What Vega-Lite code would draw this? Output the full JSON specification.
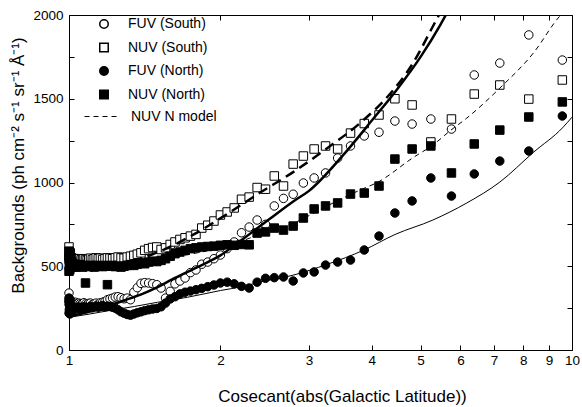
{
  "$schema": "https://vega.github.io/schema/vega-lite/v6.json",
  "width": 503,
  "height": 335,
  "autosize": {"type": "none"},
  "padding": {"left": 69, "top": 15, "right": 10, "bottom": 57},
  "config": {
    "font": "Liberation Sans",
    "view": {"stroke": null},
    "axis": {
      "grid": false,
      "domainColor": "black",
      "domainWidth": 1,
      "tickColor": "black",
      "tickWidth": 1,
      "tickSize": -5,
      "labelColor": "black",
      "labelFontSize": 13.5,
      "titleColor": "black",
      "titleFontSize": 17,
      "titleFontWeight": "normal"
    }
  },
  "datasets": {
    "points": [
      {"s": "FUV (South)", "x": 1, "y": 340},
      {"s": "FUV (South)", "x": 1.0002, "y": 290},
      {"s": "FUV (South)", "x": 1.0006, "y": 275},
      {"s": "FUV (South)", "x": 1.0014, "y": 300},
      {"s": "FUV (South)", "x": 1.0024, "y": 265},
      {"s": "FUV (South)", "x": 1.0038, "y": 280},
      {"s": "FUV (South)", "x": 1.0055, "y": 270},
      {"s": "FUV (South)", "x": 1.0075, "y": 285},
      {"s": "FUV (South)", "x": 1.0098, "y": 275},
      {"s": "FUV (South)", "x": 1.0125, "y": 290},
      {"s": "FUV (South)", "x": 1.0154, "y": 268},
      {"s": "FUV (South)", "x": 1.0187, "y": 275},
      {"s": "FUV (South)", "x": 1.0223, "y": 280},
      {"s": "FUV (South)", "x": 1.0263, "y": 270},
      {"s": "FUV (South)", "x": 1.0306, "y": 285},
      {"s": "FUV (South)", "x": 1.0353, "y": 275},
      {"s": "FUV (South)", "x": 1.0403, "y": 270},
      {"s": "FUV (South)", "x": 1.0457, "y": 280},
      {"s": "FUV (South)", "x": 1.0515, "y": 275},
      {"s": "FUV (South)", "x": 1.0576, "y": 270},
      {"s": "FUV (South)", "x": 1.0642, "y": 278},
      {"s": "FUV (South)", "x": 1.0711, "y": 282},
      {"s": "FUV (South)", "x": 1.0785, "y": 275},
      {"s": "FUV (South)", "x": 1.0864, "y": 270},
      {"s": "FUV (South)", "x": 1.0946, "y": 278},
      {"s": "FUV (South)", "x": 1.1034, "y": 280},
      {"s": "FUV (South)", "x": 1.1126, "y": 272},
      {"s": "FUV (South)", "x": 1.1223, "y": 276},
      {"s": "FUV (South)", "x": 1.1326, "y": 280},
      {"s": "FUV (South)", "x": 1.1434, "y": 274},
      {"s": "FUV (South)", "x": 1.1547, "y": 282},
      {"s": "FUV (South)", "x": 1.1666, "y": 285},
      {"s": "FUV (South)", "x": 1.1792, "y": 290},
      {"s": "FUV (South)", "x": 1.1924, "y": 300},
      {"s": "FUV (South)", "x": 1.2062, "y": 305},
      {"s": "FUV (South)", "x": 1.2208, "y": 310},
      {"s": "FUV (South)", "x": 1.2361, "y": 316},
      {"s": "FUV (South)", "x": 1.2521, "y": 318},
      {"s": "FUV (South)", "x": 1.269, "y": 312},
      {"s": "FUV (South)", "x": 1.2868, "y": 306},
      {"s": "FUV (South)", "x": 1.3054, "y": 310},
      {"s": "FUV (South)", "x": 1.325, "y": 300},
      {"s": "FUV (South)", "x": 1.3456, "y": 345},
      {"s": "FUV (South)", "x": 1.3673, "y": 372},
      {"s": "FUV (South)", "x": 1.3902, "y": 398},
      {"s": "FUV (South)", "x": 1.4142, "y": 402},
      {"s": "FUV (South)", "x": 1.4396, "y": 400},
      {"s": "FUV (South)", "x": 1.4663, "y": 396},
      {"s": "FUV (South)", "x": 1.4945, "y": 390},
      {"s": "FUV (South)", "x": 1.5243, "y": 370},
      {"s": "FUV (South)", "x": 1.5557, "y": 310},
      {"s": "FUV (South)", "x": 1.589, "y": 350},
      {"s": "FUV (South)", "x": 1.6243, "y": 395},
      {"s": "FUV (South)", "x": 1.6616, "y": 412},
      {"s": "FUV (South)", "x": 1.7013, "y": 430},
      {"s": "FUV (South)", "x": 1.7434, "y": 462},
      {"s": "FUV (South)", "x": 1.7883, "y": 478},
      {"s": "FUV (South)", "x": 1.8361, "y": 512},
      {"s": "FUV (South)", "x": 1.8871, "y": 525},
      {"s": "FUV (South)", "x": 1.9416, "y": 545},
      {"s": "FUV (South)", "x": 2, "y": 567},
      {"s": "FUV (South)", "x": 2.0627, "y": 605},
      {"s": "FUV (South)", "x": 2.1301, "y": 645},
      {"s": "FUV (South)", "x": 2.2027, "y": 700},
      {"s": "FUV (South)", "x": 2.2812, "y": 734},
      {"s": "FUV (South)", "x": 2.3662, "y": 776},
      {"s": "FUV (South)", "x": 2.4586, "y": 750},
      {"s": "FUV (South)", "x": 2.5593, "y": 860},
      {"s": "FUV (South)", "x": 2.6695, "y": 905},
      {"s": "FUV (South)", "x": 2.7904, "y": 930},
      {"s": "FUV (South)", "x": 2.9238, "y": 997},
      {"s": "FUV (South)", "x": 3.0716, "y": 1027},
      {"s": "FUV (South)", "x": 3.2361, "y": 1057},
      {"s": "FUV (South)", "x": 3.4203, "y": 1146},
      {"s": "FUV (South)", "x": 3.628, "y": 1218},
      {"s": "FUV (South)", "x": 3.8637, "y": 1278},
      {"s": "FUV (South)", "x": 4.1336, "y": 1300},
      {"s": "FUV (South)", "x": 4.4454, "y": 1367},
      {"s": "FUV (South)", "x": 4.8097, "y": 1349},
      {"s": "FUV (South)", "x": 5.2408, "y": 1379},
      {"s": "FUV (South)", "x": 5.7588, "y": 1319},
      {"s": "FUV (South)", "x": 6.3925, "y": 1642},
      {"s": "FUV (South)", "x": 7.1853, "y": 1713},
      {"s": "FUV (South)", "x": 8.2055, "y": 1881},
      {"s": "FUV (South)", "x": 9.5668, "y": 1731},
      {"s": "NUV (South)", "x": 1, "y": 615},
      {"s": "NUV (South)", "x": 1.0002, "y": 560},
      {"s": "NUV (South)", "x": 1.0006, "y": 545},
      {"s": "NUV (South)", "x": 1.0014, "y": 555},
      {"s": "NUV (South)", "x": 1.0024, "y": 540},
      {"s": "NUV (South)", "x": 1.0038, "y": 548},
      {"s": "NUV (South)", "x": 1.0055, "y": 535},
      {"s": "NUV (South)", "x": 1.0075, "y": 545},
      {"s": "NUV (South)", "x": 1.0098, "y": 538},
      {"s": "NUV (South)", "x": 1.0125, "y": 550},
      {"s": "NUV (South)", "x": 1.0154, "y": 540},
      {"s": "NUV (South)", "x": 1.0187, "y": 535},
      {"s": "NUV (South)", "x": 1.0223, "y": 545},
      {"s": "NUV (South)", "x": 1.0263, "y": 540},
      {"s": "NUV (South)", "x": 1.0306, "y": 538},
      {"s": "NUV (South)", "x": 1.0353, "y": 545},
      {"s": "NUV (South)", "x": 1.0403, "y": 535},
      {"s": "NUV (South)", "x": 1.0457, "y": 540},
      {"s": "NUV (South)", "x": 1.0515, "y": 545},
      {"s": "NUV (South)", "x": 1.0576, "y": 538},
      {"s": "NUV (South)", "x": 1.0642, "y": 542},
      {"s": "NUV (South)", "x": 1.0711, "y": 545},
      {"s": "NUV (South)", "x": 1.0785, "y": 540},
      {"s": "NUV (South)", "x": 1.0864, "y": 535},
      {"s": "NUV (South)", "x": 1.0946, "y": 542},
      {"s": "NUV (South)", "x": 1.1034, "y": 548},
      {"s": "NUV (South)", "x": 1.1126, "y": 540},
      {"s": "NUV (South)", "x": 1.1223, "y": 545},
      {"s": "NUV (South)", "x": 1.1326, "y": 550},
      {"s": "NUV (South)", "x": 1.1434, "y": 545},
      {"s": "NUV (South)", "x": 1.1547, "y": 548},
      {"s": "NUV (South)", "x": 1.1666, "y": 540},
      {"s": "NUV (South)", "x": 1.1792, "y": 545},
      {"s": "NUV (South)", "x": 1.1924, "y": 550},
      {"s": "NUV (South)", "x": 1.2062, "y": 548},
      {"s": "NUV (South)", "x": 1.2208, "y": 545},
      {"s": "NUV (South)", "x": 1.2361, "y": 550},
      {"s": "NUV (South)", "x": 1.2521, "y": 555},
      {"s": "NUV (South)", "x": 1.269, "y": 550},
      {"s": "NUV (South)", "x": 1.2868, "y": 548},
      {"s": "NUV (South)", "x": 1.3054, "y": 555},
      {"s": "NUV (South)", "x": 1.325, "y": 560},
      {"s": "NUV (South)", "x": 1.3456, "y": 565},
      {"s": "NUV (South)", "x": 1.3673, "y": 572},
      {"s": "NUV (South)", "x": 1.3902, "y": 580},
      {"s": "NUV (South)", "x": 1.4142, "y": 595},
      {"s": "NUV (South)", "x": 1.4396, "y": 605},
      {"s": "NUV (South)", "x": 1.4663, "y": 612},
      {"s": "NUV (South)", "x": 1.4945, "y": 615},
      {"s": "NUV (South)", "x": 1.5243, "y": 600},
      {"s": "NUV (South)", "x": 1.5557, "y": 610},
      {"s": "NUV (South)", "x": 1.589, "y": 630},
      {"s": "NUV (South)", "x": 1.6243, "y": 645},
      {"s": "NUV (South)", "x": 1.6616, "y": 660},
      {"s": "NUV (South)", "x": 1.7013, "y": 670},
      {"s": "NUV (South)", "x": 1.7434, "y": 680},
      {"s": "NUV (South)", "x": 1.7883, "y": 690},
      {"s": "NUV (South)", "x": 1.8361, "y": 728},
      {"s": "NUV (South)", "x": 1.8871, "y": 745},
      {"s": "NUV (South)", "x": 1.9416, "y": 770},
      {"s": "NUV (South)", "x": 2, "y": 806},
      {"s": "NUV (South)", "x": 2.0627, "y": 824},
      {"s": "NUV (South)", "x": 2.1301, "y": 848},
      {"s": "NUV (South)", "x": 2.2027, "y": 900},
      {"s": "NUV (South)", "x": 2.2812, "y": 913},
      {"s": "NUV (South)", "x": 2.3662, "y": 970},
      {"s": "NUV (South)", "x": 2.4586, "y": 960},
      {"s": "NUV (South)", "x": 2.5593, "y": 1039},
      {"s": "NUV (South)", "x": 2.6695, "y": 979},
      {"s": "NUV (South)", "x": 2.7904, "y": 1110},
      {"s": "NUV (South)", "x": 2.9238, "y": 1158},
      {"s": "NUV (South)", "x": 3.0716, "y": 1200},
      {"s": "NUV (South)", "x": 3.2361, "y": 1218},
      {"s": "NUV (South)", "x": 3.4203, "y": 1200},
      {"s": "NUV (South)", "x": 3.628, "y": 1295},
      {"s": "NUV (South)", "x": 3.8637, "y": 1352},
      {"s": "NUV (South)", "x": 4.1336, "y": 1403},
      {"s": "NUV (South)", "x": 4.4454, "y": 1500},
      {"s": "NUV (South)", "x": 4.8097, "y": 1463},
      {"s": "NUV (South)", "x": 5.2408, "y": 1242},
      {"s": "NUV (South)", "x": 5.7588, "y": 1379},
      {"s": "NUV (South)", "x": 6.3925, "y": 1528},
      {"s": "NUV (South)", "x": 7.1853, "y": 1582},
      {"s": "NUV (South)", "x": 8.2055, "y": 1498},
      {"s": "NUV (South)", "x": 9.5668, "y": 1612},
      {"s": "FUV (North)", "x": 1, "y": 310},
      {"s": "FUV (North)", "x": 1.0002, "y": 220},
      {"s": "FUV (North)", "x": 1.0006, "y": 290},
      {"s": "FUV (North)", "x": 1.0014, "y": 240},
      {"s": "FUV (North)", "x": 1.0024, "y": 270},
      {"s": "FUV (North)", "x": 1.0038, "y": 215},
      {"s": "FUV (North)", "x": 1.0055, "y": 300},
      {"s": "FUV (North)", "x": 1.0075, "y": 250},
      {"s": "FUV (North)", "x": 1.0098, "y": 230},
      {"s": "FUV (North)", "x": 1.0125, "y": 260},
      {"s": "FUV (North)", "x": 1.0154, "y": 245},
      {"s": "FUV (North)", "x": 1.0187, "y": 255},
      {"s": "FUV (North)", "x": 1.0223, "y": 240},
      {"s": "FUV (North)", "x": 1.0263, "y": 250},
      {"s": "FUV (North)", "x": 1.0306, "y": 245},
      {"s": "FUV (North)", "x": 1.0353, "y": 255},
      {"s": "FUV (North)", "x": 1.0403, "y": 248},
      {"s": "FUV (North)", "x": 1.0457, "y": 252},
      {"s": "FUV (North)", "x": 1.0515, "y": 245},
      {"s": "FUV (North)", "x": 1.0576, "y": 255},
      {"s": "FUV (North)", "x": 1.0642, "y": 250},
      {"s": "FUV (North)", "x": 1.0711, "y": 258},
      {"s": "FUV (North)", "x": 1.0785, "y": 252},
      {"s": "FUV (North)", "x": 1.0864, "y": 248},
      {"s": "FUV (North)", "x": 1.0946, "y": 255},
      {"s": "FUV (North)", "x": 1.1034, "y": 260},
      {"s": "FUV (North)", "x": 1.1126, "y": 252},
      {"s": "FUV (North)", "x": 1.1223, "y": 256},
      {"s": "FUV (North)", "x": 1.1326, "y": 262},
      {"s": "FUV (North)", "x": 1.1434, "y": 255},
      {"s": "FUV (North)", "x": 1.1547, "y": 260},
      {"s": "FUV (North)", "x": 1.1666, "y": 265},
      {"s": "FUV (North)", "x": 1.1792, "y": 258},
      {"s": "FUV (North)", "x": 1.1924, "y": 262},
      {"s": "FUV (North)", "x": 1.2062, "y": 260},
      {"s": "FUV (North)", "x": 1.2208, "y": 255},
      {"s": "FUV (North)", "x": 1.2361, "y": 250},
      {"s": "FUV (North)", "x": 1.2521, "y": 240},
      {"s": "FUV (North)", "x": 1.269, "y": 228},
      {"s": "FUV (North)", "x": 1.2868, "y": 220},
      {"s": "FUV (North)", "x": 1.3054, "y": 212},
      {"s": "FUV (North)", "x": 1.325, "y": 208},
      {"s": "FUV (North)", "x": 1.3456, "y": 215},
      {"s": "FUV (North)", "x": 1.3673, "y": 222},
      {"s": "FUV (North)", "x": 1.3902, "y": 228},
      {"s": "FUV (North)", "x": 1.4142, "y": 235},
      {"s": "FUV (North)", "x": 1.4396, "y": 240},
      {"s": "FUV (North)", "x": 1.4663, "y": 245},
      {"s": "FUV (North)", "x": 1.4945, "y": 248},
      {"s": "FUV (North)", "x": 1.5243, "y": 258},
      {"s": "FUV (North)", "x": 1.5557, "y": 280},
      {"s": "FUV (North)", "x": 1.589, "y": 305},
      {"s": "FUV (North)", "x": 1.6243, "y": 318},
      {"s": "FUV (North)", "x": 1.6616, "y": 335},
      {"s": "FUV (North)", "x": 1.7013, "y": 345},
      {"s": "FUV (North)", "x": 1.7434, "y": 352},
      {"s": "FUV (North)", "x": 1.7883, "y": 360},
      {"s": "FUV (North)", "x": 1.8361, "y": 368},
      {"s": "FUV (North)", "x": 1.8871, "y": 378},
      {"s": "FUV (North)", "x": 1.9416, "y": 388},
      {"s": "FUV (North)", "x": 2, "y": 400},
      {"s": "FUV (North)", "x": 2.0627, "y": 405},
      {"s": "FUV (North)", "x": 2.1301, "y": 395},
      {"s": "FUV (North)", "x": 2.2027, "y": 380},
      {"s": "FUV (North)", "x": 2.2812, "y": 370},
      {"s": "FUV (North)", "x": 2.3662, "y": 405},
      {"s": "FUV (North)", "x": 2.4586, "y": 428},
      {"s": "FUV (North)", "x": 2.5593, "y": 432},
      {"s": "FUV (North)", "x": 2.6695, "y": 436},
      {"s": "FUV (North)", "x": 2.7904, "y": 412},
      {"s": "FUV (North)", "x": 2.9238, "y": 460},
      {"s": "FUV (North)", "x": 3.0716, "y": 466},
      {"s": "FUV (North)", "x": 3.2361, "y": 507},
      {"s": "FUV (North)", "x": 3.4203, "y": 525},
      {"s": "FUV (North)", "x": 3.628, "y": 537},
      {"s": "FUV (North)", "x": 3.8637, "y": 597},
      {"s": "FUV (North)", "x": 4.1336, "y": 680},
      {"s": "FUV (North)", "x": 4.4454, "y": 818},
      {"s": "FUV (North)", "x": 4.8097, "y": 890},
      {"s": "FUV (North)", "x": 5.2408, "y": 1027},
      {"s": "FUV (North)", "x": 5.7588, "y": 919},
      {"s": "FUV (North)", "x": 6.3925, "y": 1051},
      {"s": "FUV (North)", "x": 7.1853, "y": 1128},
      {"s": "FUV (North)", "x": 8.2055, "y": 1188},
      {"s": "FUV (North)", "x": 9.5668, "y": 1397},
      {"s": "NUV (North)", "x": 1, "y": 590},
      {"s": "NUV (North)", "x": 1.0002, "y": 470},
      {"s": "NUV (North)", "x": 1.0006, "y": 560},
      {"s": "NUV (North)", "x": 1.0014, "y": 500},
      {"s": "NUV (North)", "x": 1.0024, "y": 540},
      {"s": "NUV (North)", "x": 1.0038, "y": 480},
      {"s": "NUV (North)", "x": 1.0055, "y": 580},
      {"s": "NUV (North)", "x": 1.0075, "y": 510},
      {"s": "NUV (North)", "x": 1.0098, "y": 495},
      {"s": "NUV (North)", "x": 1.0125, "y": 530},
      {"s": "NUV (North)", "x": 1.0154, "y": 500},
      {"s": "NUV (North)", "x": 1.0187, "y": 515},
      {"s": "NUV (North)", "x": 1.0223, "y": 505},
      {"s": "NUV (North)", "x": 1.0263, "y": 495},
      {"s": "NUV (North)", "x": 1.0306, "y": 510},
      {"s": "NUV (North)", "x": 1.0353, "y": 500},
      {"s": "NUV (North)", "x": 1.0403, "y": 505},
      {"s": "NUV (North)", "x": 1.0457, "y": 498},
      {"s": "NUV (North)", "x": 1.0515, "y": 510},
      {"s": "NUV (North)", "x": 1.0576, "y": 502},
      {"s": "NUV (North)", "x": 1.0642, "y": 495},
      {"s": "NUV (North)", "x": 1.0711, "y": 505},
      {"s": "NUV (North)", "x": 1.0785, "y": 400},
      {"s": "NUV (North)", "x": 1.0864, "y": 500},
      {"s": "NUV (North)", "x": 1.0946, "y": 498},
      {"s": "NUV (North)", "x": 1.1034, "y": 505},
      {"s": "NUV (North)", "x": 1.1126, "y": 500},
      {"s": "NUV (North)", "x": 1.1223, "y": 495},
      {"s": "NUV (North)", "x": 1.1326, "y": 505},
      {"s": "NUV (North)", "x": 1.1434, "y": 500},
      {"s": "NUV (North)", "x": 1.1547, "y": 502},
      {"s": "NUV (North)", "x": 1.1666, "y": 498},
      {"s": "NUV (North)", "x": 1.1792, "y": 505},
      {"s": "NUV (North)", "x": 1.1924, "y": 390},
      {"s": "NUV (North)", "x": 1.2062, "y": 500},
      {"s": "NUV (North)", "x": 1.2208, "y": 505},
      {"s": "NUV (North)", "x": 1.2361, "y": 498},
      {"s": "NUV (North)", "x": 1.2521, "y": 500},
      {"s": "NUV (North)", "x": 1.269, "y": 495},
      {"s": "NUV (North)", "x": 1.2868, "y": 500},
      {"s": "NUV (North)", "x": 1.3054, "y": 505},
      {"s": "NUV (North)", "x": 1.325, "y": 510},
      {"s": "NUV (North)", "x": 1.3456, "y": 505},
      {"s": "NUV (North)", "x": 1.3673, "y": 512},
      {"s": "NUV (North)", "x": 1.3902, "y": 520},
      {"s": "NUV (North)", "x": 1.4142, "y": 515},
      {"s": "NUV (North)", "x": 1.4396, "y": 525},
      {"s": "NUV (North)", "x": 1.4663, "y": 530},
      {"s": "NUV (North)", "x": 1.4945, "y": 528},
      {"s": "NUV (North)", "x": 1.5243, "y": 535},
      {"s": "NUV (North)", "x": 1.5557, "y": 545},
      {"s": "NUV (North)", "x": 1.589, "y": 560},
      {"s": "NUV (North)", "x": 1.6243, "y": 575},
      {"s": "NUV (North)", "x": 1.6616, "y": 585},
      {"s": "NUV (North)", "x": 1.7013, "y": 595},
      {"s": "NUV (North)", "x": 1.7434, "y": 605},
      {"s": "NUV (North)", "x": 1.7883, "y": 610},
      {"s": "NUV (North)", "x": 1.8361, "y": 615},
      {"s": "NUV (North)", "x": 1.8871, "y": 618},
      {"s": "NUV (North)", "x": 1.9416, "y": 620},
      {"s": "NUV (North)", "x": 2, "y": 625},
      {"s": "NUV (North)", "x": 2.0627, "y": 628},
      {"s": "NUV (North)", "x": 2.1301, "y": 625},
      {"s": "NUV (North)", "x": 2.2027, "y": 630},
      {"s": "NUV (North)", "x": 2.2812, "y": 628},
      {"s": "NUV (North)", "x": 2.3662, "y": 698},
      {"s": "NUV (North)", "x": 2.4586, "y": 705},
      {"s": "NUV (North)", "x": 2.5593, "y": 728},
      {"s": "NUV (North)", "x": 2.6695, "y": 716},
      {"s": "NUV (North)", "x": 2.7904, "y": 740},
      {"s": "NUV (North)", "x": 2.9238, "y": 788},
      {"s": "NUV (North)", "x": 3.0716, "y": 842},
      {"s": "NUV (North)", "x": 3.2361, "y": 860},
      {"s": "NUV (North)", "x": 3.4203, "y": 878},
      {"s": "NUV (North)", "x": 3.628, "y": 931},
      {"s": "NUV (North)", "x": 3.8637, "y": 937},
      {"s": "NUV (North)", "x": 4.1336, "y": 979},
      {"s": "NUV (North)", "x": 4.4454, "y": 1140},
      {"s": "NUV (North)", "x": 4.8097, "y": 1200},
      {"s": "NUV (North)", "x": 5.2408, "y": 1218},
      {"s": "NUV (North)", "x": 5.7588, "y": 1057},
      {"s": "NUV (North)", "x": 6.3925, "y": 1230},
      {"s": "NUV (North)", "x": 7.1853, "y": 1313},
      {"s": "NUV (North)", "x": 8.2055, "y": 1391},
      {"s": "NUV (North)", "x": 9.5668, "y": 1481}
    ],
    "fuvSouthModel": [
      {"x": 1, "y": 200}, {"x": 1.1, "y": 230}, {"x": 1.2, "y": 265}, {"x": 1.3, "y": 300},
      {"x": 1.4, "y": 335}, {"x": 1.5, "y": 375}, {"x": 1.6, "y": 420}, {"x": 1.8, "y": 495},
      {"x": 2, "y": 565}, {"x": 2.2, "y": 655}, {"x": 2.5, "y": 780}, {"x": 2.8, "y": 890},
      {"x": 3, "y": 950}, {"x": 3.5, "y": 1160}, {"x": 4, "y": 1370}, {"x": 4.5, "y": 1560},
      {"x": 5, "y": 1750}, {"x": 5.47, "y": 1940}, {"x": 5.8, "y": 2080}
    ],
    "nuvSouthModel": [
      {"x": 1, "y": 470}, {"x": 1.2, "y": 505}, {"x": 1.4, "y": 550}, {"x": 1.52, "y": 590},
      {"x": 1.77, "y": 690}, {"x": 2.07, "y": 815}, {"x": 2.4, "y": 940}, {"x": 2.8, "y": 1065},
      {"x": 3.26, "y": 1205}, {"x": 3.79, "y": 1355}, {"x": 4.35, "y": 1530}, {"x": 4.8, "y": 1700},
      {"x": 5.35, "y": 1960}, {"x": 5.6, "y": 2070}
    ],
    "fuvNorthModel": [
      {"x": 1, "y": 195}, {"x": 1.1, "y": 215}, {"x": 1.2, "y": 235}, {"x": 1.35, "y": 260},
      {"x": 1.5, "y": 285}, {"x": 1.72, "y": 315}, {"x": 2, "y": 355}, {"x": 2.22, "y": 380},
      {"x": 2.4, "y": 406}, {"x": 2.8, "y": 448}, {"x": 3.25, "y": 510}, {"x": 3.86, "y": 597},
      {"x": 4.45, "y": 690}, {"x": 5.29, "y": 776}, {"x": 6.18, "y": 878}, {"x": 7.19, "y": 1003},
      {"x": 8.38, "y": 1180}, {"x": 9.6, "y": 1330}, {"x": 10, "y": 1390}
    ],
    "nuvNorthModel": [
      {"x": 1, "y": 480}, {"x": 1.2, "y": 500}, {"x": 1.5, "y": 540}, {"x": 1.8, "y": 580},
      {"x": 2, "y": 610}, {"x": 2.4, "y": 690}, {"x": 2.8, "y": 758}, {"x": 3.26, "y": 860},
      {"x": 3.79, "y": 955}, {"x": 4.1, "y": 1000}, {"x": 4.84, "y": 1150}, {"x": 5.29, "y": 1224},
      {"x": 5.73, "y": 1310}, {"x": 6.18, "y": 1385}, {"x": 7.19, "y": 1564}, {"x": 8.38, "y": 1773},
      {"x": 9.46, "y": 1994}, {"x": 9.5, "y": 2000}
    ]
  },
  "layer": [
    {
      "data": {"name": "points"},
      "mark": {"type": "point", "filled": true, "stroke": "black", "strokeWidth": 1, "size": 72, "opacity": 1},
      "encoding": {
        "x": {
          "field": "x", "type": "quantitative",
          "scale": {"type": "log", "domain": [1, 10], "nice": false},
          "axis": {
            "title": "Cosecant(abs(Galactic Latitude))",
            "values": [1, 2, 3, 4, 5, 6, 7, 8, 9, 10],
            "format": "~g",
            "labelFlush": false,
            "labelOverlap": false,
            "labelPadding": 8,
            "titlePadding": 22,
            "titleX": 273
          }
        },
        "y": {
          "field": "y", "type": "quantitative",
          "scale": {"domain": [0, 2000], "nice": false},
          "axis": {
            "title": "Backgrounds (ph cm⁻² s⁻¹ sr⁻¹ Å⁻¹)",
            "values": [0, 250, 500, 750, 1000, 1250, 1500, 1750, 2000],
            "labelExpr": "datum.value % 500 === 0 ? datum.label : ''",
            "format": "d",
            "labelPadding": 11,
            "titlePadding": 5,
            "titleY": 150
          }
        },
        "shape": {
          "field": "s", "type": "nominal",
          "scale": {"domain": ["FUV (South)", "NUV (South)", "FUV (North)", "NUV (North)"], "range": ["circle", "square", "circle", "square"]},
          "legend": {"orient": "none", "legendX": 28, "legendY": 2, "title": null, "padding": 0, "labelFontSize": 14, "labelOffset": 17, "rowPadding": 7.5, "symbolSize": 72,
            "encode": {"symbols": {"update": {"stroke": {"value": "black"}, "strokeWidth": {"value": 1}}}}}
        },
        "fill": {
          "field": "s", "type": "nominal",
          "scale": {"domain": ["FUV (South)", "NUV (South)", "FUV (North)", "NUV (North)"], "range": ["white", "white", "black", "black"]},
          "legend": {"orient": "none", "legendX": 28, "legendY": 2, "title": null, "padding": 0, "labelFontSize": 14, "labelOffset": 17, "rowPadding": 7.5, "symbolSize": 72,
            "encode": {"symbols": {"update": {"stroke": {"value": "black"}, "strokeWidth": {"value": 1}}}}}
        }
      }
    },
    {
      "data": {"name": "fuvSouthModel"},
      "mark": {"type": "line", "color": "black", "strokeWidth": 2.5, "interpolate": "monotone", "clip": true},
      "encoding": {
        "x": {"field": "x", "type": "quantitative", "scale": {"type": "log", "domain": [1, 10], "nice": false}, "axis": null},
        "y": {"field": "y", "type": "quantitative", "scale": {"domain": [0, 2000], "nice": false}, "axis": null}
      }
    },
    {
      "data": {"name": "nuvSouthModel"},
      "mark": {"type": "line", "color": "black", "strokeWidth": 2.5, "strokeDash": [10, 6], "interpolate": "monotone", "clip": true},
      "encoding": {
        "x": {"field": "x", "type": "quantitative", "scale": {"type": "log", "domain": [1, 10], "nice": false}, "axis": null},
        "y": {"field": "y", "type": "quantitative", "scale": {"domain": [0, 2000], "nice": false}, "axis": null}
      }
    },
    {
      "data": {"name": "fuvNorthModel"},
      "mark": {"type": "line", "color": "black", "strokeWidth": 1, "interpolate": "monotone", "clip": true},
      "encoding": {
        "x": {"field": "x", "type": "quantitative", "scale": {"type": "log", "domain": [1, 10], "nice": false}, "axis": null},
        "y": {"field": "y", "type": "quantitative", "scale": {"domain": [0, 2000], "nice": false}, "axis": null}
      }
    },
    {
      "data": {"name": "nuvNorthModel"},
      "mark": {"type": "line", "color": "black", "strokeWidth": 1, "interpolate": "monotone", "clip": true},
      "encoding": {
        "x": {
          "field": "x", "type": "quantitative",
          "scale": {"type": "log", "domain": [1, 10], "nice": false},
          "axis": {"orient": "top", "labels": false, "title": null, "values": [1, 2, 3, 4, 5, 6, 7, 8, 9, 10]}
        },
        "y": {
          "field": "y", "type": "quantitative",
          "scale": {"domain": [0, 2000], "nice": false},
          "axis": {"orient": "right", "labels": false, "title": null, "values": [0, 250, 500, 750, 1000, 1250, 1500, 1750, 2000]}
        },
        "strokeDash": {
          "datum": "NUV N model",
          "scale": {"range": [[5, 4]]},
          "legend": {"orient": "none", "legendX": 15, "legendY": 84, "title": null, "padding": 0, "labelFontSize": 14, "labelOffset": 12, "symbolType": "stroke", "symbolSize": 1156, "symbolStrokeWidth": 1, "symbolStrokeColor": "black"}
        }
      }
    }
  ],
  "resolve": {"axis": {"x": "independent", "y": "independent"}}
}
